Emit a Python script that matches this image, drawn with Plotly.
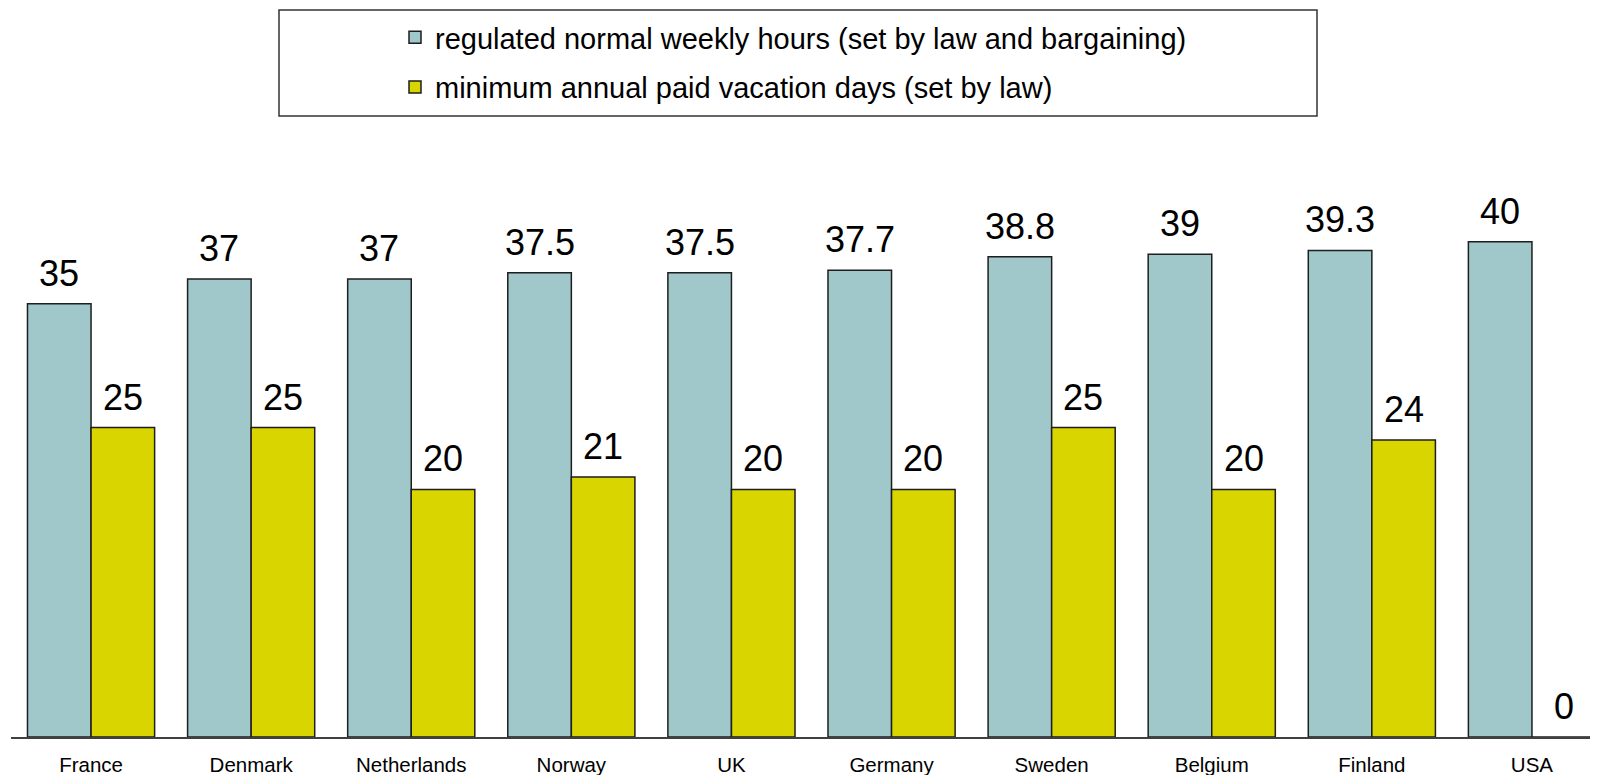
import plotly.graph_objects as go

countries = ["France", "Denmark", "Netherlands", "Norway", "UK", "Germany",
             "Sweden", "Belgium", "Finland", "USA"]
weekly_hours = [35, 37, 37, 37.5, 37.5, 37.7, 38.8, 39, 39.3, 40]
vacation_days = [25, 25, 20, 21, 20, 20, 25, 20, 24, 0]
series_names = ["regulated normal weekly hours (set by law and bargaining)",
                "minimum annual paid vacation days (set by law)"]

BARGAP = 0.206
FONT = "Liberation Sans, Arial, sans-serif"

# figure geometry (page has an 8px body margin)
W, H = 1590, 767
L, R, T, B = 3, 0, 162, 38
PW, PH = W - L - R, H - T - B
CAT_PX = 160.1  # pixel width of one category

fig = go.Figure()
fig.add_trace(go.Bar(x=countries, y=weekly_hours, name=series_names[0], legendgroup="a",
                     marker=dict(color="#a0c7c9", line=dict(color="#1e1e1e", width=1.5))))
fig.add_trace(go.Bar(x=countries, y=vacation_days, name=series_names[1], legendgroup="b",
                     marker=dict(color="#d8d500", line=dict(color="#1e1e1e", width=1.5))))

half = (1 - BARGAP) / 4
annotations = []
for i in range(len(countries)):
    for vals, off in ((weekly_hours, -half), (vacation_days, half)):
        v = vals[i]
        annotations.append(dict(x=i + off, y=v, xref="x", yref="y",
                                text=f"{v:g}", showarrow=False,
                                yanchor="bottom", yshift=8,
                                font=dict(family=FONT, size=36, color="#000")))

fig.update_layout(
    width=W, height=H,
    margin=dict(l=L, r=R, t=T, b=B),
    paper_bgcolor="white", plot_bgcolor="white",
    barmode="group", bargap=BARGAP, bargroupgap=0,
    font=dict(family=FONT, color="#000"),
    showlegend=True,
    legend=dict(x=(387 - L) / PW, y=(T + PH - 4) / PH, xanchor="left", yanchor="top",
                bgcolor="rgba(0,0,0,0)", borderwidth=0,
                font=dict(family=FONT, size=29, color="#000"),
                traceorder="grouped", tracegroupgap=9),
    annotations=annotations,
    shapes=[dict(type="rect", xref="paper", yref="paper",
                 x0=(271 - L) / PW, x1=(1309 - L) / PW,
                 y0=(T + PH - 108) / PH, y1=(T + PH - 2) / PH,
                 line=dict(color="#333", width=1.5), fillcolor="rgba(0,0,0,0)")],
)
fig.update_xaxes(showline=True, linecolor="#404040", linewidth=1.5, showgrid=False,
                 range=[-0.5, -0.5 + PW / CAT_PX],
                 ticks="", tickfont=dict(family=FONT, size=20.5, color="#000"),
                 ticklabelstandoff=9, automargin=False)
fig.update_yaxes(visible=False, range=[0, PH / 12.38], showgrid=False, automargin=False)

fig.write_html("out.html")
